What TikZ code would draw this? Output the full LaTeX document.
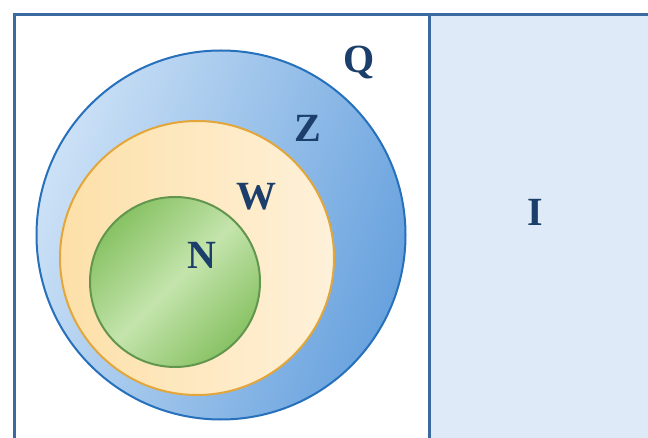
\documentclass[tikz,border=0pt]{standalone}
\usepackage{fontspec}
\setmainfont{Liberation Serif}
\usetikzlibrary{positioning}

\definecolor{frameblue}{RGB}{58,106,160}
\definecolor{panelblue}{RGB}{222,234,247}
\definecolor{qlight}{RGB}{204,225,246}
\definecolor{qdark}{RGB}{104,162,222}
\definecolor{qline}{RGB}{38,112,188}
\definecolor{zfill}{RGB}{253,224,168}
\definecolor{zlight}{RGB}{254,241,218}
\definecolor{zline}{RGB}{226,166,58}
\definecolor{nfill}{RGB}{136,194,100}
\definecolor{nlight}{RGB}{196,228,172}
\definecolor{nline}{RGB}{98,150,78}
\definecolor{labelblue}{RGB}{28,62,106}

\tikzset{
  setlabel/.style={font=\fontsize{40}{40}\selectfont\bfseries, text=labelblue, inner sep=0pt},
  setcircle/.style={circle, inner sep=0pt, line width=2pt}
}

\begin{document}
\begin{tikzpicture}[x=1pt,y=-1pt]
        \useasboundingbox (0,0) rectangle (648,438);
        \clip (0,0) rectangle (648,438);
        \fill[white] (0,0) rectangle (648,438);
        % right panel
        \fill[panelblue] (429,15) rectangle (660,450);
        \draw[frameblue, line width=3pt] (14,15) rectangle (660,450);
        \draw[frameblue, line width=3pt] (429,15) -- (429,450);
        % nested sets
        \node[setcircle, draw=qline, minimum size=369pt, left color=qlight, right color=qdark, shading angle=70] (Q) at (221,235) {};
        \node[setcircle, draw=zline, minimum size=274pt, left color=zfill, right color=zlight] (Z) at (197,258) {};
        \node[setcircle, draw=nline, minimum size=170pt, left color=nfill, right color=nfill, middle color=nlight, shading angle=45] (N) at (175,282) {};
        % labels
        \node[setlabel] (Qlab) at (359,63) {Q};
        \node[setlabel] (Zlab) at (308,128) {Z};
        \node[setlabel] (Wlab) at (256,197) {W};
        \node[setlabel] (Nlab) at (202,255) {N};
        \node[setlabel] (Ilab) at (535,212) {I};
    \end{tikzpicture}
\end{document}
